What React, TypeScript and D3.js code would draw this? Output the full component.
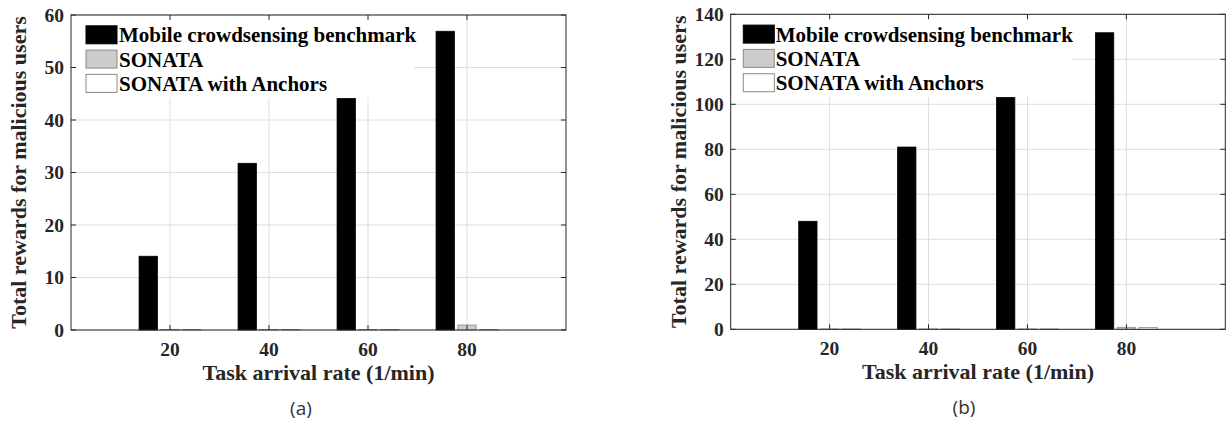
import React from "react";
import * as d3 from "d3";

const categories = [20, 40, 60, 80];
const seriesNames = ["Mobile crowdsensing benchmark", "SONATA", "SONATA with Anchors"];

const benchmarkA = [14.05, 31.75, 44.1, 56.9];
const sonataA = [0.1, 0.1, 0.1, 0.95];
const anchorsA = [0.1, 0.1, 0.1, 0.1];

const benchmarkB = [48.0, 81.0, 103.3, 131.8];
const sonataB = [0.15, 0.15, 0.15, 0.9];
const anchorsB = [0.15, 0.15, 0.15, 0.8];

const yTicksA = [0, 10, 20, 30, 40, 50, 60];
const yTicksB = [0, 20, 40, 60, 80, 100, 120, 140];

const FILLS = ["#000000", "#cccccc", "#ffffff"];
const STROKES = ["#000000", "#8a8a8a", "#8a8a8a"];
const AX = "#262626";
const GRID = "#dedede";
const FONT = "'Liberation Serif', 'Times New Roman', serif";

type PanelProps = {
  series: number[][];
  yMax: number;
  yTicks: number[];
  left: number;
  right: number;
  top: number;
  bottom: number;
  caption: string;
  captionX: number;
  legendPatchOff: number;
  legendTextOff: number;
  legendBgW: number;
};

function Panel(p: PanelProps) {
  const x = d3.scaleLinear().domain([0, 100]).range([p.left, p.right]);
  const y = d3.scaleLinear().domain([0, p.yMax]).range([p.bottom, p.top]);
  const barW = 3.7;
  const offsets = [-4.4, 0, 4.4];
  const tickLen = 5;
  const legTop = p.top + 19.8;
  const legStep = 24.3;
  const patchH = 18;
  const bgBottom = p.top + 82.8;
  return (
    <g>
      {categories.map((c) => (
        <line key={"gx" + c} x1={x(c)} x2={x(c)} y1={p.top} y2={p.bottom} stroke={GRID} strokeWidth={1} />
      ))}
      {p.yTicks.map((t) => (
        <line key={"gy" + t} x1={p.left} x2={p.right} y1={y(t)} y2={y(t)} stroke={GRID} strokeWidth={1} />
      ))}
      {p.series.map((vals, si) =>
        vals.map((v, ci) => {
          const x0 = x(categories[ci] + offsets[si] - barW / 2);
          const x1 = x(categories[ci] + offsets[si] + barW / 2);
          const yy = y(v);
          return (
            <rect
              key={"b" + si + "_" + ci}
              x={x0}
              y={yy}
              width={x1 - x0}
              height={Math.max(0.5, p.bottom - yy)}
              fill={FILLS[si]}
              stroke={STROKES[si]}
              strokeWidth={0.8}
            />
          );
        })
      )}
      <rect x={p.left + 1} y={p.top + 1} width={p.legendBgW} height={bgBottom - p.top - 1} fill="#ffffff" />
      {seriesNames.map((name, i) => {
        const cy = legTop + i * legStep;
        return (
          <g key={"leg" + i}>
            <rect
              x={p.left + p.legendPatchOff}
              y={cy - patchH / 2}
              width={31}
              height={patchH}
              fill={FILLS[i]}
              stroke={STROKES[i]}
              strokeWidth={1}
            />
            <text
              x={p.left + p.legendTextOff}
              y={cy + 7.5}
              fontFamily={FONT}
              fontWeight="bold"
              fontSize={21}
              fill="#000"
            >
              {name}
            </text>
          </g>
        );
      })}
      <rect x={p.left} y={p.top} width={p.right - p.left} height={p.bottom - p.top} fill="none" stroke={AX} strokeWidth={1} />
      {categories.map((c) => (
        <g key={"tx" + c}>
          <line x1={x(c)} x2={x(c)} y1={p.bottom} y2={p.bottom - tickLen} stroke={AX} />
          <line x1={x(c)} x2={x(c)} y1={p.top} y2={p.top + tickLen} stroke={AX} />
          <text x={x(c)} y={p.bottom + 26} textAnchor="middle" fontFamily={FONT} fontWeight="bold" fontSize={19.5} fill={AX}>
            {c}
          </text>
        </g>
      ))}
      {p.yTicks.map((t) => (
        <g key={"ty" + t}>
          <line x1={p.left} x2={p.left + tickLen} y1={y(t)} y2={y(t)} stroke={AX} />
          <line x1={p.right} x2={p.right - tickLen} y1={y(t)} y2={y(t)} stroke={AX} />
          <text x={p.left - 7} y={y(t) + 6.5} textAnchor="end" fontFamily={FONT} fontWeight="bold" fontSize={19.5} fill={AX}>
            {t}
          </text>
        </g>
      ))}
      <text
        x={(p.left + p.right) / 2}
        y={p.bottom + 50}
        textAnchor="middle"
        fontFamily={FONT}
        fontWeight="bold"
        fontSize={22}
        fill={AX}
      >
        Task arrival rate (1/min)
      </text>
      <text
        transform={`translate(${p.left - 45},${(p.top + p.bottom) / 2}) rotate(-90)`}
        textAnchor="middle"
        fontFamily={FONT}
        fontWeight="bold"
        fontSize={22}
        fill={AX}
      >
        Total rewards for malicious users
      </text>
      <text x={p.captionX} y={p.bottom + 85} textAnchor="middle" fontFamily="'Open Sans', 'Noto Sans', sans-serif" fontSize={19} fill="#333">
        {p.caption}
      </text>
    </g>
  );
}

export default function App() {
  return (
    <svg
      width={1227}
      height={427}
      style={{ position: "absolute", left: 0, top: 0, background: "#fff" }}
    >
      <rect x={0} y={0} width={1227} height={427} fill="#fff" />
      <Panel
        series={[benchmarkA, sonataA, anchorsA]}
        yMax={60}
        yTicks={yTicksA}
        left={71}
        right={566}
        top={15}
        bottom={330}
        caption="(a)"
        captionX={301}
        legendPatchOff={15}
        legendTextOff={48}
        legendBgW={342}
      />
      <Panel
        series={[benchmarkB, sonataB, anchorsB]}
        yMax={140}
        yTicks={yTicksB}
        left={730.7}
        right={1225.3}
        top={14.3}
        bottom={329.3}
        caption="(b)"
        captionX={964}
        legendPatchOff={12.6}
        legendTextOff={45}
        legendBgW={340}
      />
    </svg>
  );
}
